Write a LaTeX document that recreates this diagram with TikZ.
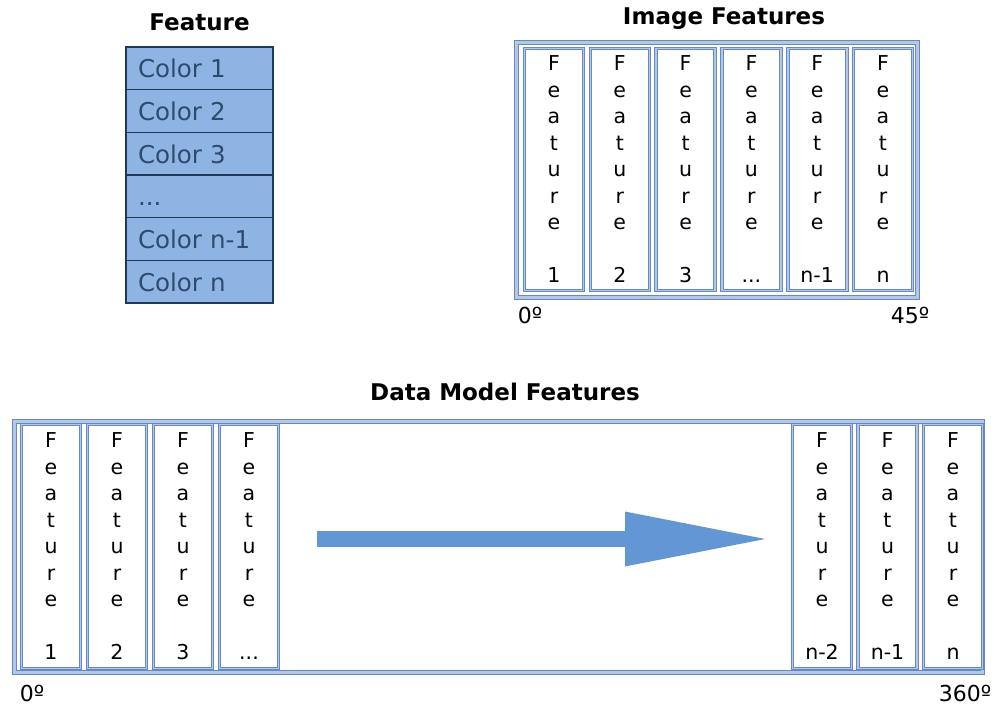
\documentclass[tikz,border=0pt]{standalone}
\usepackage{fontspec}
\setmainfont{DejaVu Sans}
\usetikzlibrary{arrows.meta}
\definecolor{FrameLine}{HTML}{6589C4}
\definecolor{FrameGap}{HTML}{B4C7E5}
\definecolor{RowFill}{HTML}{8EB4E3}
\definecolor{RowLine}{HTML}{1F3A58}
\definecolor{RowText}{HTML}{2E4B6E}
\definecolor{ArrowFill}{HTML}{6396D5}

% one column of the feature strip: letters, a gap, then its index
\newcommand{\featcell}[3]{\node[cell] (#1) at (#2) {F\\e\\a\\t\\u\\r\\e\\\mbox{}\\#3};}

\begin{document}
\begin{tikzpicture}[
	x=1pt, y=-1pt, % one unit is one pixel of the layout
	% Style for the bold headings
	heading/.style={
		font=\fontsize{23}{28}\selectfont\bfseries
	},
	% Style for the rows of the colour table
	colorrow/.style={
		draw=RowLine,
		fill=RowFill,
		line width=1.3pt,
		text=RowText,
		minimum height=42.67pt,
		inner xsep=12pt,
		inner ysep=0pt,
		text width=123pt,
		text height=21pt,
		text depth=2pt,
		align=left,
		font=\fontsize{24.5}{29}\selectfont
	},
	% Style for the outer double frames
	frame/.style={
		draw=FrameLine,
		double=FrameGap,
		line width=1.3pt,
		double distance=2.6pt,
		inner sep=0pt
	},
	% Style for the feature columns
	cell/.style={
		draw=FrameLine,
		double=FrameGap,
		line width=1pt,
		double distance=1.6pt,
		fill=white,
		inner sep=0pt,
		minimum width=59pt,
		align=center,
		font=\fontsize{20.5}{26.5}\selectfont
	},
	% Style for the angle marks
	angle/.style={
		font=\fontsize{22}{26}\selectfont
	}
	]
	\useasboundingbox (0,0) rectangle (997,708);

	% ================= COLOUR TABLE =================
	\node[heading] (ftitle) at (199.5, 22) {Feature};
	\node[colorrow] (c1) at (199.5,  68.3) {Color 1};
	\node[colorrow] (c2) at (199.5, 111.0) {Color 2};
	\node[colorrow] (c3) at (199.5, 153.7) {Color 3};
	\node[colorrow] (c4) at (199.5, 196.3) {...};
	\node[colorrow] (c5) at (199.5, 239.0) {Color n-1};
	\node[colorrow] (c6) at (199.5, 281.7) {Color n};

	% ================= IMAGE FEATURES =================
	\node[heading] (ititle) at (724, 19) {Image Features};
	\node[frame, minimum width=401pt, minimum height=255pt] (iframe) at (717, 170) {};
	\begin{scope}[cell/.append style={minimum height=242pt}]
		\featcell{i1}{554.0, 169.5}{1}
		\featcell{i2}{619.8, 169.5}{2}
		\featcell{i3}{685.6, 169.5}{3}
		\featcell{i4}{751.4, 169.5}{...}
		\featcell{i5}{817.2, 169.5}{n-1}
		\featcell{i6}{883.0, 169.5}{n}
	\end{scope}
	\node[angle] (istart) at (530, 315) {0º};
	\node[angle] (iend)   at (910, 315) {45º};

	% ================= DATA MODEL FEATURES =================
	\node[heading] (dtitle) at (505, 392) {Data Model Features};
	\node[frame, minimum width=968pt, minimum height=251pt] (dframe) at (498.5, 547) {};
	\begin{scope}[cell/.append style={minimum height=244pt}]
		\featcell{d1}{51.0, 546.5}{1}
		\featcell{d2}{117.0, 546.5}{2}
		\featcell{d3}{183.0, 546.5}{3}
		\featcell{d4}{249.0, 546.5}{...}
		\featcell{d5}{822.0, 546.5}{n-2}
		\featcell{d6}{887.5, 546.5}{n-1}
		\featcell{d7}{953.0, 546.5}{n}
	\end{scope}
	\node[angle] (dstart) at (32, 693) {0º};
	\node[angle] (dend)   at (965, 693) {360º};

	% ================= ARROW =================
	\coordinate (afrom) at (317, 539);
	\coordinate (ato)   at (771, 539);
	\draw[ArrowFill, line width=16pt, -{Triangle[length=146pt, width=50pt]}] (afrom) -- (ato);

\end{tikzpicture}
\end{document}
